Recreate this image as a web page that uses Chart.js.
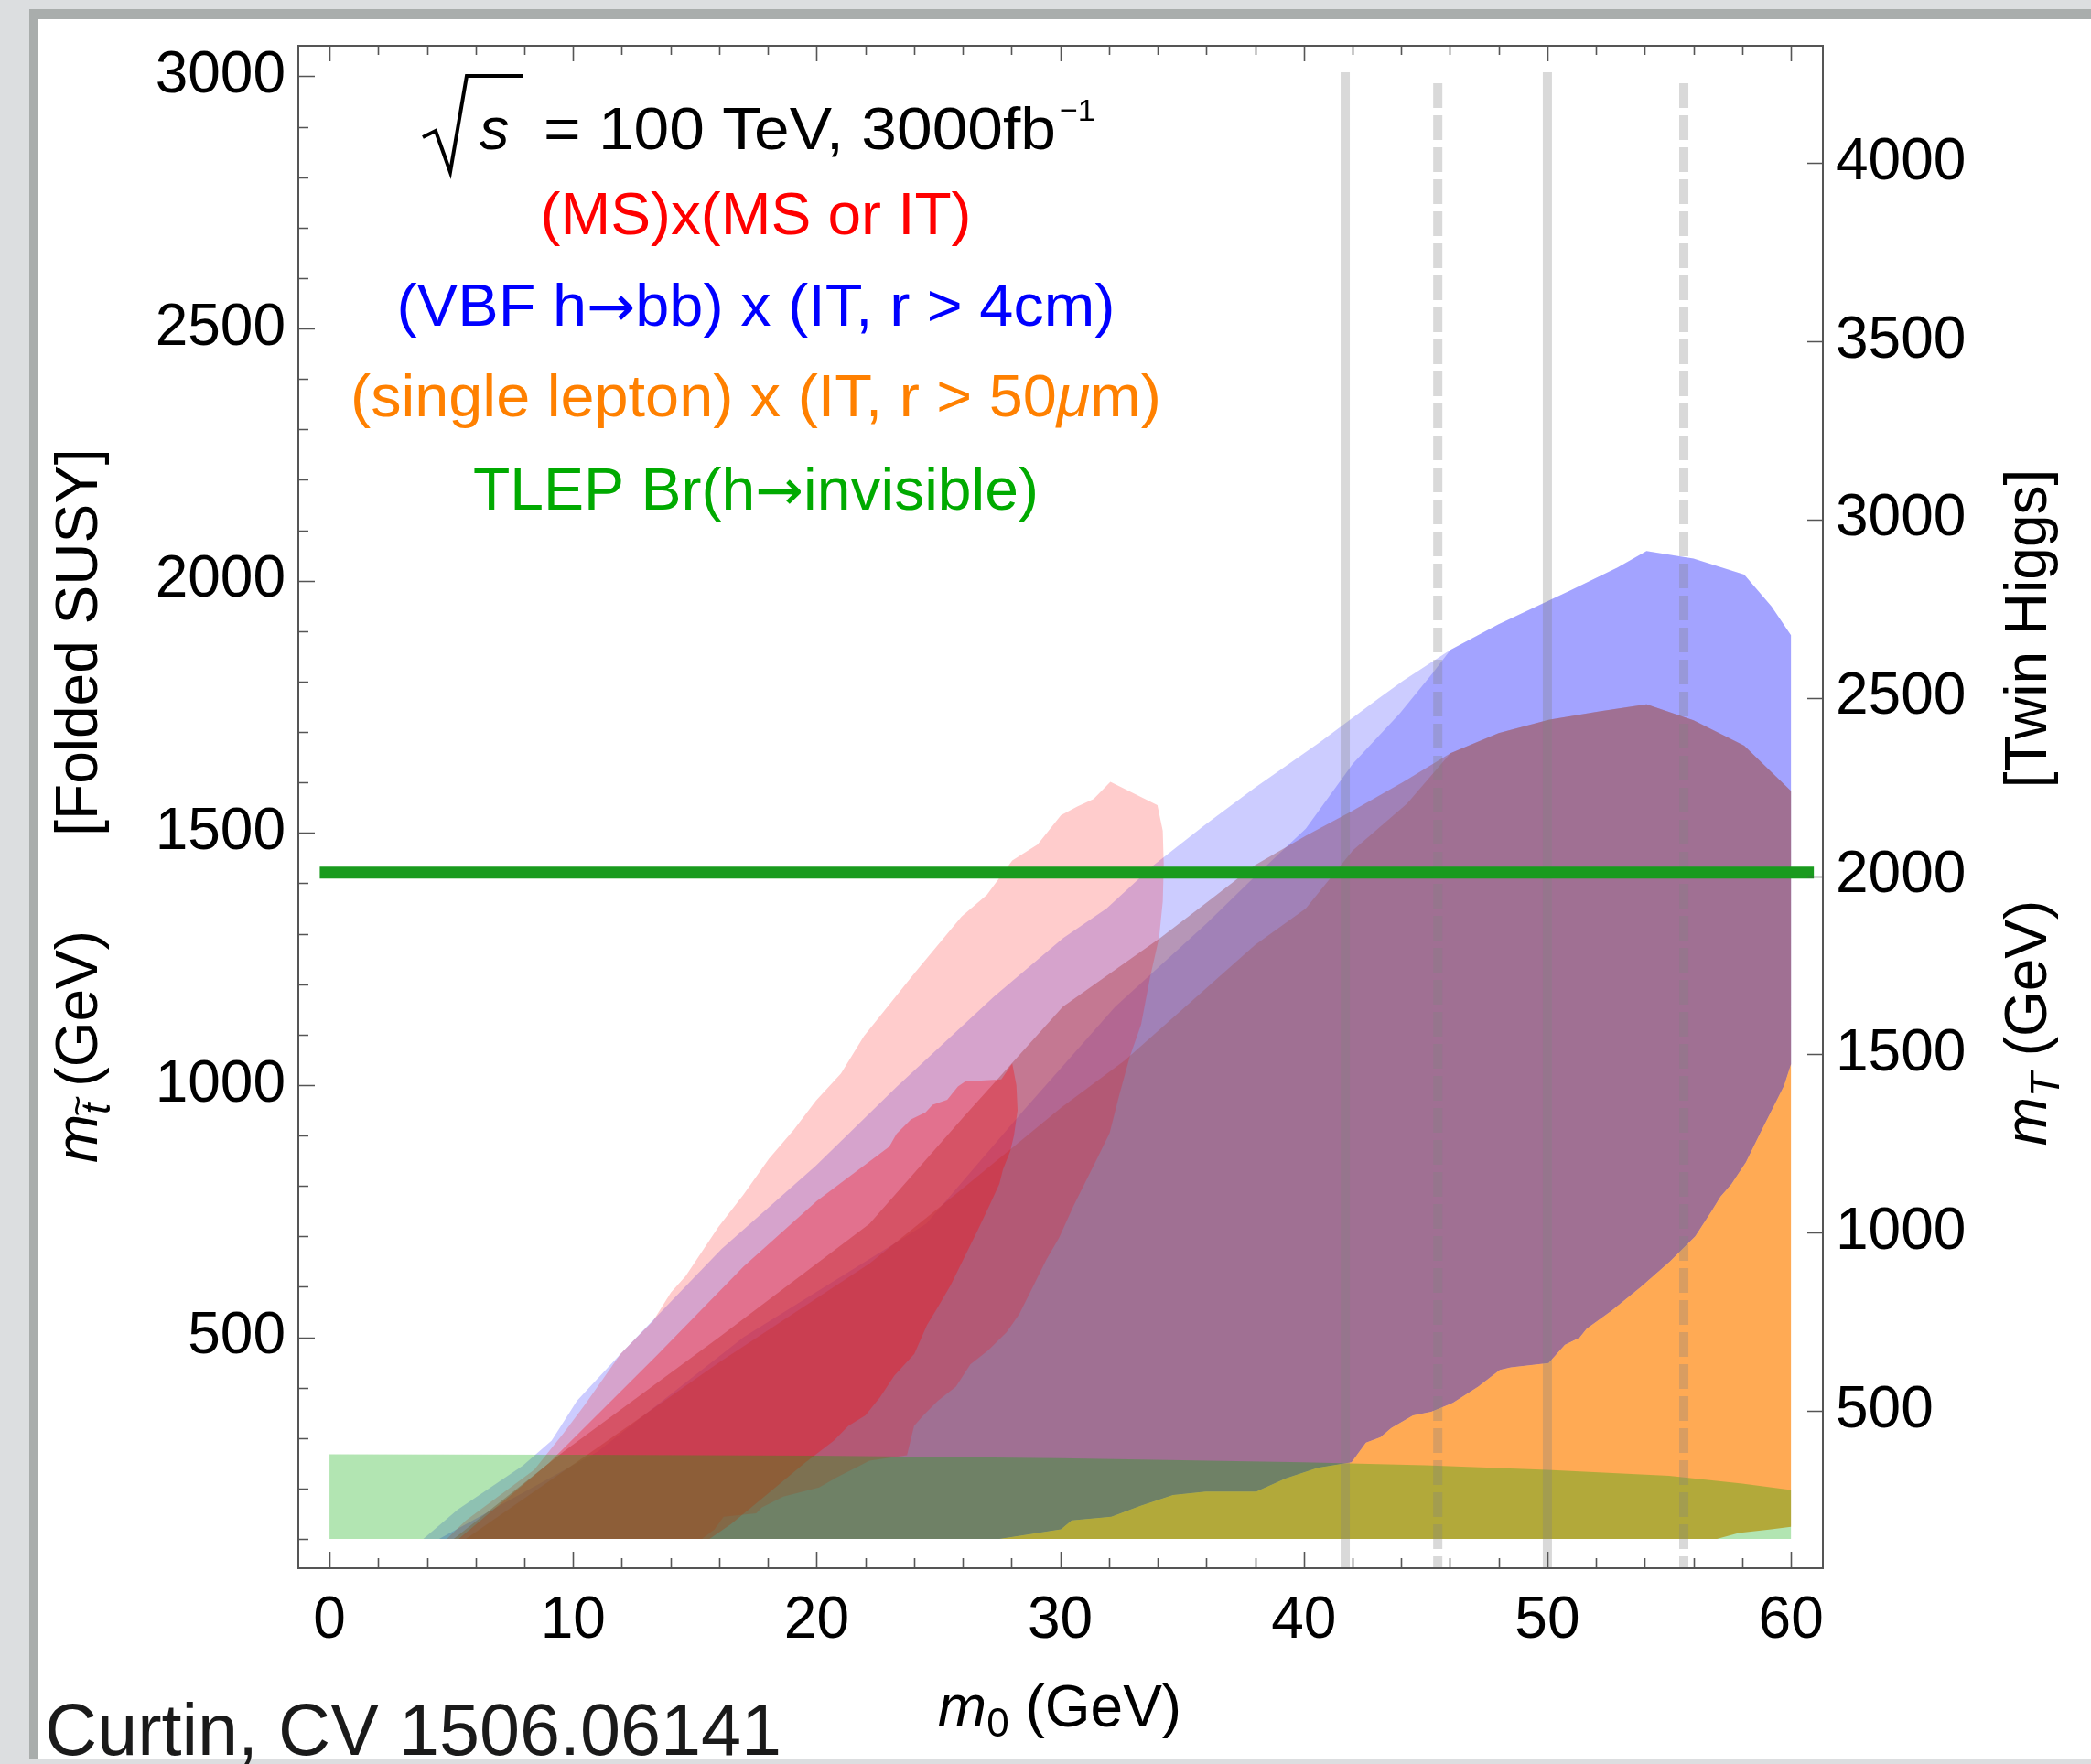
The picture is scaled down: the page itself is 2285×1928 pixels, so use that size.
<!DOCTYPE html>
<html>
<head>
<meta charset="utf-8">
<script src="https://cdn.jsdelivr.net/npm/chart.js@4.4.1/dist/chart.umd.min.js"></script>
<style>
  html, body { margin: 0; padding: 0; background: #dcdee0; }
  canvas { display: block; }
</style>
</head>
<body>
<canvas id="chart" width="2285" height="1928"></canvas>
<script>
const FONT = '"Liberation Sans", Arial, Helvetica, sans-serif';
const ARROW_FONT = '"DejaVu Sans", sans-serif';

// axis ranges; right axis (twin top mass) is sqrt(2) times the left one
const xRange = [-1.28, 61.31];
const yRange = [42, 3060.6];
const twinFactor = Math.SQRT2;

const xTicks = [0, 10, 20, 30, 40, 50, 60];
const yTicks = [500, 1000, 1500, 2000, 2500, 3000];
const y2Ticks = [500, 1000, 1500, 2000, 2500, 3000, 3500, 4000];

// reach regions, [m0, m_stop]
const blueOuterEdge = [[3.85,100],[5.26,158],[7.93,245],[9.12,295],[10.16,374],[11.95,467],[16.1,675],[19.97,840],[23.28,996],[27.29,1176],[30.11,1291],[31.9,1350],[33.84,1436],[35.92,1515],[38.0,1590],[40.67,1680],[43.05,1766],[44.09,1802],[46.02,1863],[47.98,1913],[50.95,1981],[52.88,2026],[54.07,2059],[56.0,2044],[58.08,2012],[59.2,1949],[60,1892]];
const blueInnerEdge = [[4.5,100],[11,273],[17,500],[24.5,725],[28.5,950],[32.25,1155],[36,1320],[38,1414],[40.08,1508],[42.01,1637],[43.94,1737],[45.28,1816],[46.02,1863],[47.98,1913],[50.95,1981],[52.88,2026],[54.07,2059],[56.0,2044],[58.08,2012],[59.2,1949],[60,1892]];
const mauveOuterEdge = [[5.1,100],[9.6,273],[16,500],[22.17,725],[26,935],[30.1,1155],[34.14,1293],[36.07,1364],[38.0,1436],[40.08,1494],[42.01,1544],[44.09,1601],[46.02,1658],[48.0,1698],[50.05,1724],[52.14,1741],[54.07,1755],[56.0,1723],[58.08,1673],[60,1583]];
const mauveInnerEdge = [[5.6,100],[10.76,273],[16,450],[22.17,646],[25.87,790],[30.03,955],[32.65,1049],[35.13,1155],[38.0,1278],[40.08,1350],[42.01,1465],[44.24,1558],[46.02,1658],[48.0,1698],[50.05,1724],[52.14,1741],[54.07,1755],[56.0,1723],[58.08,1673],[60,1583]];

const orangeTop = [[27.5,100],[30.03,119],[30.47,137],[32.1,144],[33.3,166],[34.63,187],[35.97,194],[38.05,194],[39.24,220],[40.57,241],[41.96,252],[42.55,291],[43.15,302],[43.59,320],[44.48,345],[45.23,352],[46.12,370],[47.16,402],[48.05,435],[48.5,440],[50.05,449],[50.72,485],[51.32,499],[51.61,517],[52.65,553],[53.84,600],[55.03,650],[56.07,700],[56.74,750],[57.11,779],[57.56,804],[58.15,847],[58.74,905],[59.19,948],[59.71,998],[60,1041]];
const orangeBottom = [[56.96,100],[57.85,112],[59.19,119],[60,124]];

const redOuterLeft = [[4.81,100],[5.6,137],[8.4,237],[9.6,309],[10.5,367],[11.95,467],[12.54,496],[13.28,532],[14.02,589],[14.62,621],[15.96,718],[17.0,783],[18.04,854],[19.07,912],[19.97,969],[21.0,1023],[21.94,1097],[24.02,1222],[25.95,1334],[26.99,1377],[28.03,1445],[29.07,1477],[30.03,1535],[30.7,1552],[31.37,1567],[32.06,1601]];
const redOuterRight = [[33.99,1555],[34.21,1504],[34.25,1436],[34.21,1364],[34.06,1293],[33.69,1214],[33.32,1120],[32.85,1055],[32.4,976],[32.03,905],[31.51,854],[31.07,811],[30.55,761],[29.95,697],[29.43,654],[28.84,596],[28.32,546],[27.8,510],[27.05,474],[26.31,446],[25.72,402],[24.98,374],[24.38,345],[24.0,324],[23.71,266],[22.17,255],[21.6,241],[20.86,223],[20.1,202],[18.63,184],[17.74,162],[17.52,151],[16.18,144],[15.81,119],[15.29,100]];
const redInnerLeft = [[5.3,100],[9,250],[13.5,467],[17,640],[20,770],[21.94,840],[22.98,878],[23.28,903],[23.87,932],[24.47,946],[24.76,961],[25.36,971],[25.8,997],[26.1,1007],[27.58,1011],[28.03,1043]];
const redInnerRight = [[28.2,1000],[28.25,950],[28.1,900],[27.95,869],[27.65,833],[27.5,804],[27.13,765],[26.6,711],[26.16,668],[25.5,603],[24.98,560],[24.53,524],[24.01,467],[23.19,424],[22.6,381],[22.0,345],[21.3,324],[20.71,295],[19.5,250],[18,190],[16.5,130],[15.6,100]];

const greenTop = [[0,268],[10,267],[20,265],[30,260],[40,252],[45,246],[50,237],[55,225],[58,210],[60,197]];

// benchmark lines
const solidLinesX = [41.7, 50.0];
const dashedLinesX = [45.5, 55.6];
const solidLineY = [3008, 38];
const dashedLineY = [2986, 38];
const invisibleLineX = [-0.4, 60.94];
const invisibleLineY = 1421;

const toPts = arr => arr.map(([x, y]) => ({x, y}));
const reversed = arr => arr.slice().reverse();

function region(points, color, order) {
  return {
    data: toPts(points),
    backgroundColor: color,
    borderWidth: 0,
    pointRadius: 0,
    pointHoverRadius: 0,
    fill: 'shape',
    order: order
  };
}

function vline(x, ys, dashed) {
  return {
    data: ys.map(y => ({x, y})),
    borderColor: 'rgba(128,128,128,0.3)',
    borderWidth: 10,
    borderDash: dashed ? [27, 8] : [],
    pointRadius: 0,
    fill: false,
    order: 1
  };
}

// higher order is painted first (underneath)
const datasets = [
  region([[0,100], ...greenTop, [60,100]], 'rgba(0,170,0,0.3)', 2),
  region([...redInnerLeft, ...redInnerRight], 'rgba(255,0,0,0.3)', 3),
  region([...redOuterLeft, ...redOuterRight], 'rgba(255,0,0,0.2)', 4),
  region([...orangeTop, ...reversed(orangeBottom)], 'rgba(255,128,0,0.67)', 5),
  region([...mauveInnerEdge, ...reversed(orangeTop)], 'rgba(160,95,112,0.5)', 6),
  region([...mauveOuterEdge, ...reversed(orangeTop)], 'rgba(160,95,112,0.5)', 7),
  region([...blueInnerEdge, ...reversed(orangeTop)], 'rgba(0,0,255,0.2)', 8),
  region([...blueOuterEdge, ...reversed(orangeTop)], 'rgba(0,0,255,0.2)', 9),
  ...solidLinesX.map(x => vline(x, solidLineY, false)),
  ...dashedLinesX.map(x => vline(x, dashedLineY, true)),
  {
    data: invisibleLineX.map(x => ({x, y: invisibleLineY})),
    borderColor: '#199b1e',
    borderWidth: 13,
    pointRadius: 0,
    fill: false,
    order: 0
  }
];

// draws a row of text runs; optional width squeezes/stretches the row to fit
function drawRuns(ctx, runs, x0, baseline, color, opts) {
  opts = opts || {};
  ctx.save();
  ctx.fillStyle = color;
  ctx.textBaseline = 'alphabetic';
  ctx.textAlign = 'left';
  let total = 0;
  runs.forEach(r => { ctx.font = r.font; r.w = ctx.measureText(r.t).width; total += r.w; });
  const s = opts.width ? opts.width / total : 1;
  const start = opts.align === 'left' ? x0 : x0 - total * s / 2;
  ctx.translate(start, baseline);
  ctx.scale(s, 1);
  let x = 0;
  runs.forEach(r => {
    ctx.font = r.font;
    ctx.fillText(r.t, x, r.dy || 0);
    if (r.tilde) {
      ctx.font = '40px ' + FONT;
      ctx.textAlign = 'center';
      ctx.fillText('~', x + r.w / 2 + 3, (r.dy || 0) - 22);
      ctx.textAlign = 'left';
    }
    x += r.w;
  });
  ctx.restore();
}

const big = '64px ' + FONT;
const bigItalic = 'italic 64px ' + FONT;
const sub = '44px ' + FONT;
const subItalic = 'italic 44px ' + FONT;
const title = '65px ' + FONT;
const arrow = '62px ' + ARROW_FONT;

const decorPlugin = {
  id: 'decor',
  beforeDraw(chart) {
    const ctx = chart.ctx;
    const W = chart.width;
    ctx.save();
    ctx.fillStyle = '#dcdee0';
    ctx.fillRect(0, 0, W, chart.height);
    ctx.fillStyle = '#a9adac';
    ctx.fillRect(32, 10, W - 32, 1913);
    ctx.fillStyle = '#ffffff';
    ctx.fillRect(42, 21, W - 42, 1902);
    ctx.restore();
  },
  afterDatasetsDraw(chart) {
    const ctx = chart.ctx;
    const {left, right, top, bottom} = chart.chartArea;
    const sx = chart.scales.x, sy = chart.scales.y, sy2 = chart.scales.y2;
    ctx.save();
    ctx.strokeStyle = '#555555';
    ctx.lineWidth = 2;
    ctx.strokeRect(left, top, right - left, bottom - top);
    ctx.beginPath();
    for (let v = 0; v <= 60; v += 2) {
      const px = Math.round(sx.getPixelForValue(v)) + 0.5;
      const major = v % 10 === 0;
      ctx.moveTo(px, bottom); ctx.lineTo(px, bottom - (major ? 18 : 11));
      ctx.moveTo(px, top); ctx.lineTo(px, top + (major ? 17 : 10));
    }
    for (let v = 100; v <= 3000; v += 100) {
      const py = Math.round(sy.getPixelForValue(v)) + 0.5;
      ctx.moveTo(left, py); ctx.lineTo(left + (v % 500 === 0 ? 18 : 11), py);
    }
    y2Ticks.forEach(v => {
      const py = Math.round(sy2.getPixelForValue(v)) + 0.5;
      ctx.moveTo(right, py); ctx.lineTo(right - 17, py);
    });
    ctx.lineWidth = 1.6;
    ctx.stroke();
    ctx.restore();
  },
  afterDraw(chart) {
    const ctx = chart.ctx;
    ctx.save();
    // sqrt(s) line
    ctx.strokeStyle = '#000';
    ctx.lineWidth = 4;
    ctx.beginPath();
    ctx.moveTo(462, 150); ctx.lineTo(476, 143); ctx.lineTo(492, 188);
    ctx.lineTo(510, 83); ctx.lineTo(571, 83);
    ctx.stroke();
    drawRuns(ctx, [{t: 's', font: 'italic 65px ' + FONT}], 524, 163, '#000', {align: 'left'});
    drawRuns(ctx, [{t: '= 100 TeV, 3000fb', font: title}], 594, 163, '#000', {align: 'left', width: 560});
    drawRuns(ctx, [{t: '\u22121', font: '34px ' + FONT}], 1158, 132, '#000', {align: 'left'});
    drawRuns(ctx, [{t: '(MS)x(MS or IT)', font: title}], 826, 256, '#ff0000', {width: 471});
    drawRuns(ctx, [{t: '(VBF h', font: title}, {t: '\u2192', font: arrow}, {t: 'bb) x (IT, r > 4cm)', font: title}], 826, 356, '#0000ff', {width: 785});
    drawRuns(ctx, [{t: '(single lepton) x (IT, r > 50', font: title}, {t: '\u03bc', font: 'italic 65px ' + FONT}, {t: 'm)', font: title}], 826, 455, '#ff8000', {width: 886});
    drawRuns(ctx, [{t: 'TLEP Br(h', font: title}, {t: '\u2192', font: arrow}, {t: 'invisible)', font: title}], 826, 557, '#00aa00', {width: 618});

    // x axis title
    drawRuns(ctx, [{t: 'm', font: bigItalic}, {t: '0', font: sub, dy: 11}, {t: ' (GeV)', font: big}], 1158, 1887, '#000');

    // left axis titles
    ctx.save();
    ctx.translate(106, 0);
    ctx.rotate(-Math.PI / 2);
    drawRuns(ctx, [{t: '[Folded SUSY]', font: big}], -702, 0, '#000');
    drawRuns(ctx, [{t: 'm', font: bigItalic}, {t: 't', font: subItalic, dy: 14, tilde: true}, {t: ' (GeV)', font: big}], -1144, 0, '#000');
    ctx.restore();

    // right axis titles
    ctx.save();
    ctx.translate(2236, 0);
    ctx.rotate(-Math.PI / 2);
    drawRuns(ctx, [{t: '[Twin Higgs]', font: big}], -687, 0, '#000');
    drawRuns(ctx, [{t: 'm', font: bigItalic}, {t: 'T', font: subItalic, dy: 14}, {t: ' (GeV)', font: big}], -1118, 0, '#000');
    ctx.restore();

    // citation
    drawRuns(ctx, [{t: 'Curtin, CV 1506.06141', font: '80px ' + FONT}], 49, 1918, '#1a1a1a', {align: 'left', width: 805});
    ctx.restore();
  }
};

const tickFont = {family: FONT, size: 64};

new Chart(document.getElementById('chart'), {
  type: 'line',
  data: {datasets},
  options: {
    responsive: false,
    animation: false,
    devicePixelRatio: 1,
    layout: {padding: {top: 50, left: 0, right: 0, bottom: 0}},
    plugins: {legend: {display: false}, tooltip: {enabled: false}},
    scales: {
      x: {
        type: 'linear',
        min: xRange[0],
        max: xRange[1],
        grid: {display: false},
        border: {display: false},
        afterBuildTicks: s => { s.ticks = xTicks.map(v => ({value: v})); },
        afterFit: s => { s.height = 214; },
        ticks: {font: tickFont, color: '#000', padding: 12, maxRotation: 0, autoSkip: false, callback: v => String(v)}
      },
      y: {
        type: 'linear',
        position: 'left',
        min: yRange[0],
        max: yRange[1],
        grid: {display: false},
        border: {display: false},
        afterBuildTicks: s => { s.ticks = yTicks.map(v => ({value: v})); },
        afterFit: s => { s.width = 326; },
        ticks: {font: tickFont, color: '#000', padding: 6, autoSkip: false, callback: v => String(v)}
      },
      y2: {
        type: 'linear',
        position: 'right',
        min: yRange[0] * twinFactor,
        max: yRange[1] * twinFactor,
        grid: {display: false},
        border: {display: false},
        afterBuildTicks: s => { s.ticks = y2Ticks.map(v => ({value: v})); },
        afterFit: s => { s.width = 293; },
        ticks: {font: tickFont, color: '#000', padding: 6, autoSkip: false, callback: v => String(v)}
      }
    }
  },
  plugins: [decorPlugin]
});
</script>
</body>
</html>
